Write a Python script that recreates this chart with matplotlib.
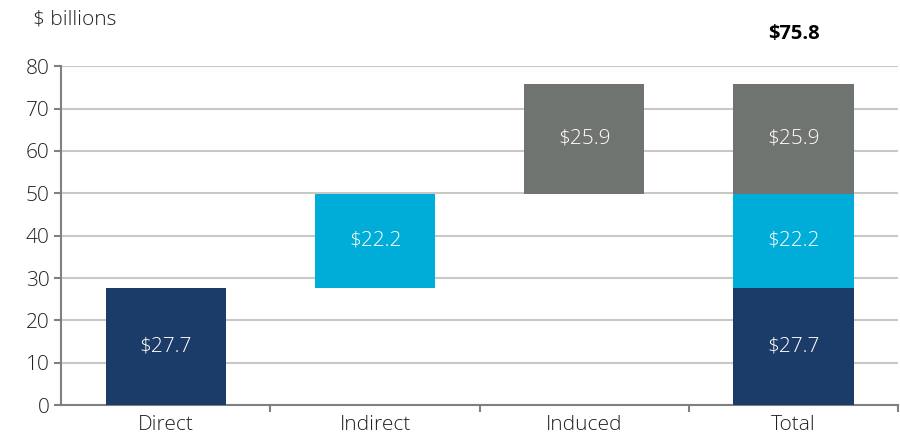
import matplotlib.pyplot as plt
import numpy as np

categories = ['Direct', 'Indirect', 'Induced', 'Total']
direct = 27.7
indirect = 22.2
induced = 25.9
total_label = '$75.8'

navy = '#1b3c68'
cyan = '#00acd8'
gray = '#6f7470'

plt.rcParams['font.family'] = ['Open Sans', 'DejaVu Sans']
plt.rcParams['font.weight'] = 'light'

fig = plt.figure(figsize=(9, 4.38), dpi=100)
ax = fig.add_axes([0.068, 0.075, 0.93, 0.774])

x = np.arange(len(categories))
w = 0.575

# waterfall segments
ax.bar(x[0], direct, w, color=navy, zorder=3)
ax.bar(x[1], indirect, w, bottom=direct, color=cyan, zorder=3)
ax.bar(x[2], induced, w, bottom=direct + indirect, color=gray, zorder=3)
# total stacked
ax.bar(x[3], direct, w, color=navy, zorder=3)
ax.bar(x[3], indirect, w, bottom=direct, color=cyan, zorder=3)
ax.bar(x[3], induced, w, bottom=direct + indirect, color=gray, zorder=3)

segs = [(x[0], 0, direct), (x[1], direct, indirect), (x[2], direct + indirect, induced),
        (x[3], 0, direct), (x[3], direct, indirect), (x[3], direct + indirect, induced)]
for xi, b, h in segs:
    ax.text(xi, b + h / 2, '$%.1f' % h, color='white', ha='center', va='center',
            fontsize=15, zorder=4)

ax.text(x[3], 87.5, total_label, ha='center', va='center', fontsize=14.5,
        fontweight='bold', clip_on=False)

ax.set_xlim(-0.5, 3.5)
ax.set_ylim(0, 80)
ax.set_yticks(range(0, 81, 10))
ax.yaxis.grid(True, color='#c8c8c4', linewidth=1.5, zorder=0)
ax.set_axisbelow(True)

ax.set_xticks(x)
ax.set_xticklabels(categories)
ax.set_xticks([0.5, 1.5, 2.5, 3.5], minor=True)
ax.tick_params(axis='x', which='major', length=0, labelsize=15, pad=7, colors='#222222')
ax.tick_params(axis='x', which='minor', length=5, width=1.5, color='#808080')
ax.tick_params(axis='y', length=5, width=1.5, labelsize=15, labelcolor='#222222', color='#808080')

for s in ['top', 'right']:
    ax.spines[s].set_visible(False)
for s in ['left', 'bottom']:
    ax.spines[s].set_color('#808080')
    ax.spines[s].set_linewidth(1.5)

fig.text(0.037, 0.955, '$ billions', fontsize=15, color='#222222', va='center')

plt.savefig('out.png', dpi=100)
